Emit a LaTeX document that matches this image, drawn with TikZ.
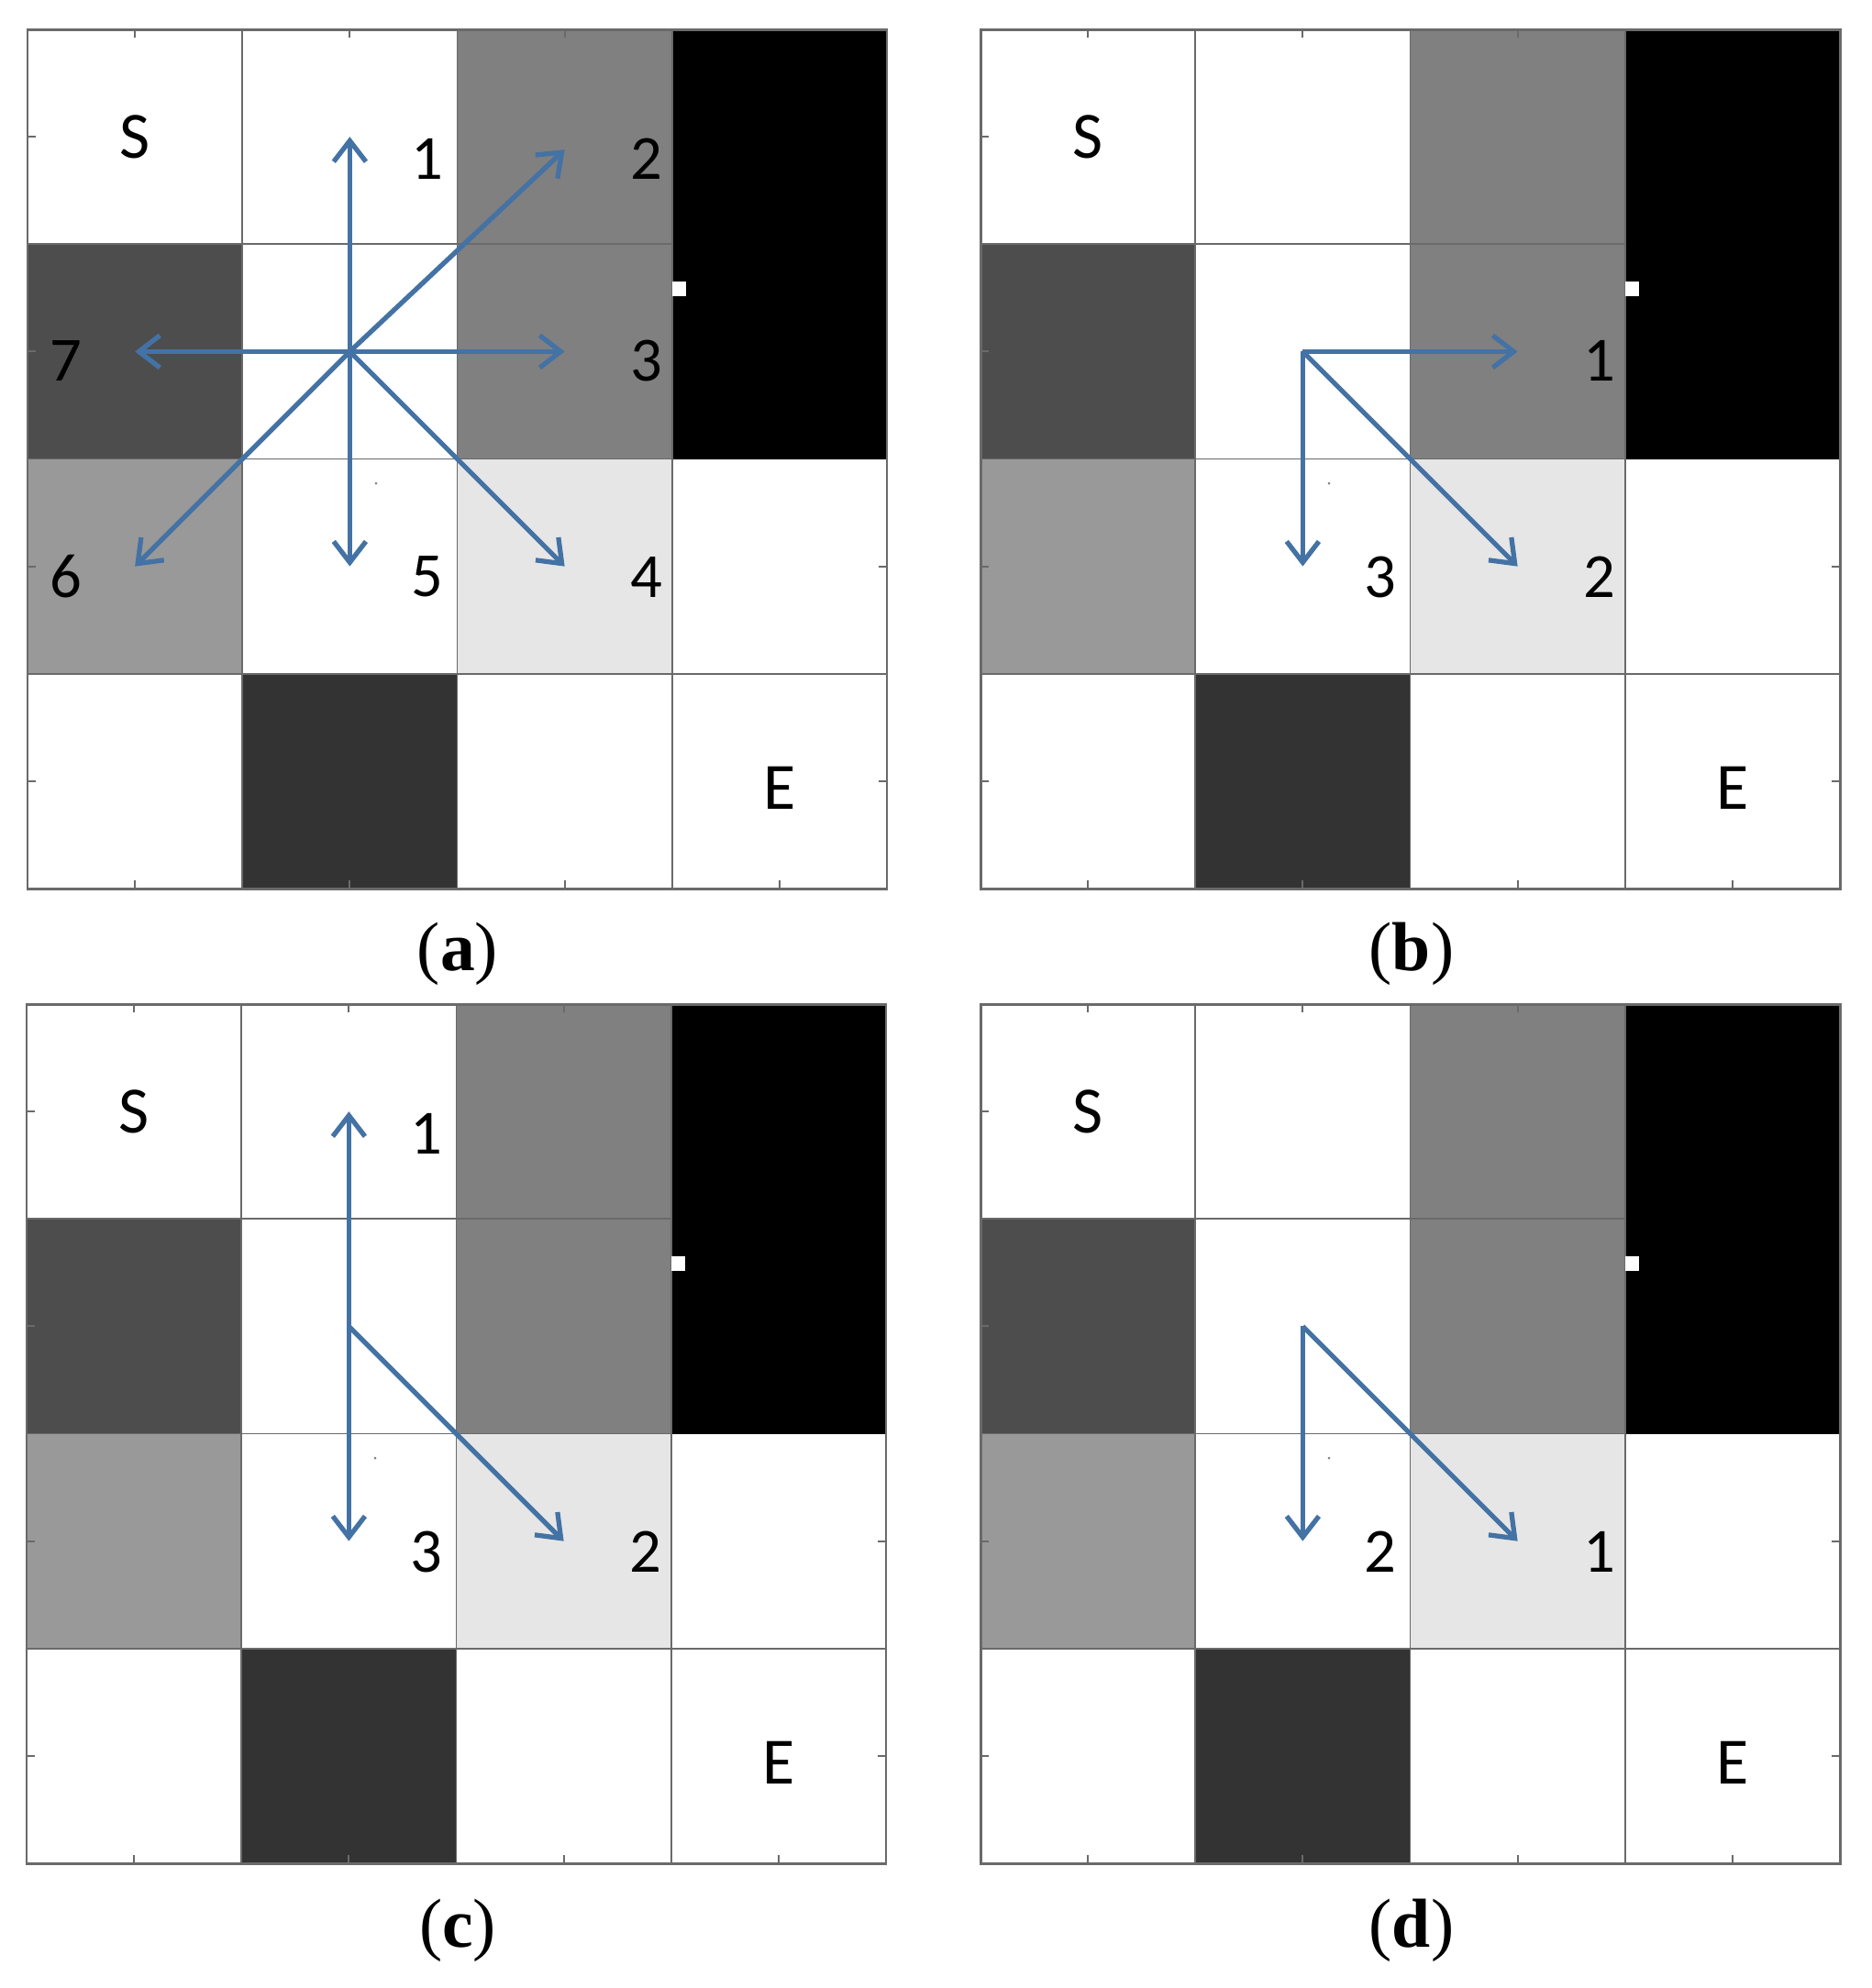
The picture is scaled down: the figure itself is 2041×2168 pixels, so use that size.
\documentclass[tikz,border=0pt]{standalone}
\usepackage{fontspec}
\setmainfont{Liberation Serif}
\newfontfamily\lblfont{Carlito}
\usetikzlibrary{arrows.meta}
\definecolor{arrowblue}{HTML}{4472A4}
\definecolor{gmid}{HTML}{808080}
\definecolor{gdark}{HTML}{4D4D4D}
\definecolor{gdarker}{HTML}{333333}
\definecolor{glight}{HTML}{999999}
\definecolor{gpale}{HTML}{E6E6E6}
\definecolor{gline}{HTML}{6A6A6A}
\tikzset{
  gridline/.style={draw=gline, line width=0.55pt},
  border/.style={draw=gline, line width=0.85pt},
  tickmark/.style={draw=gline, line width=0.6pt},
  arr/.style={draw=arrowblue, line width=1.5pt, -{Straight Barb[length=6.5pt,width=10pt]}},
  num/.style={font=\lblfont\fontsize{19.5}{22}\selectfont, inner sep=0pt},
  letter/.style={font=\lblfont\fontsize{20.5}{24}\selectfont, inner sep=0pt},
  captext/.style={font=\fontsize{21.5}{24}\selectfont, inner sep=0pt},
  panel/.pic={
    \def\c{234.25}
    \coordinate (-o) at (0,0);
    \foreach \col/\row/\shade in {3/1/gmid,1/2/gdark,3/2/gmid,1/3/glight,3/3/gpale,2/4/gdarker}
      \fill[\shade] ({(\col-1)*\c},{(\row-1)*\c}) rectangle ++(\c,\c);
    \foreach \i in {1,2,3} {
      \draw[gridline] ({\i*\c},0) -- ({\i*\c},937);
      \draw[gridline] (0,{\i*\c}) -- (937,{\i*\c});
    }
    \foreach \i in {0,1,2,3} {
      \draw[tickmark] ({(\i+0.5)*\c},0) -- ++(0,9);
      \draw[tickmark] ({(\i+0.5)*\c},937) -- ++(0,-9);
      \draw[tickmark] (0,{(\i+0.5)*\c}) -- ++(9,0);
      \draw[tickmark] (937,{(\i+0.5)*\c}) -- ++(-9,0);
    }
    \fill[black] ({3*\c+1},0) rectangle (937,{2*\c});
    \draw[border] (0,0) rectangle (937,937);
    \fill[white] (703,275) rectangle (718,291);
    \fill[gray] (380,495) circle (1.5);
    \node[letter] (-S) at ({0.5*\c},{0.5*\c}) {S};
    \node[letter] (-E) at ({3.5*\c},{3.53*\c}) {E};
    \foreach \col in {1,2,3} \foreach \row in {1,2,3}
      \coordinate (-c\col\row) at ({(\col-0.5)*\c},{(\row-0.5)*\c});
    \coordinate (-ur) at ({2.5*\c},{0.56*\c});
  }
}
\begin{document}
\begin{tikzpicture}[x=0.01cm,y=-0.01cm]
\useasboundingbox (0,0) rectangle (2041,2168);
\fill[white] (0,0) rectangle (2041,2168);

\pic (a) at (30,32) {panel};
\pic (b) at (1069,32) {panel};
\pic (c) at (29,1095) {panel};
\pic (d) at (1069,1095) {panel};

% (a) all seven directions
\draw[arr] (a-c22) -- (a-c21);
\draw[arr] (a-c22) -- (a-ur);
\draw[arr] (a-c22) -- (a-c32);
\draw[arr] (a-c22) -- (a-c33);
\draw[arr] (a-c22) -- (a-c23);
\draw[arr] (a-c22) -- (a-c13);
\draw[arr] (a-c22) -- (a-c12);
\node[num] (a-n1) at ([shift={(436,141)}]a-o) {1};
\node[num] (a-n2) at ([shift={(675,141)}]a-o) {2};
\node[num] (a-n3) at ([shift={(675,361)}]a-o) {3};
\node[num] (a-n4) at ([shift={(675,597)}]a-o) {4};
\node[num] (a-n5) at ([shift={(436,597)}]a-o) {5};
\node[num] (a-n6) at ([shift={(42,597)}]a-o) {6};
\node[num] (a-n7) at ([shift={(42,361)}]a-o) {7};

% (b)
\draw[arr] (b-c22) -- (b-c32);
\draw[arr] (b-c22) -- (b-c33);
\draw[arr] (b-c22) -- (b-c23);
\node[num] (b-n1) at ([shift={(675,361)}]b-o) {1};
\node[num] (b-n2) at ([shift={(675,597)}]b-o) {2};
\node[num] (b-n3) at ([shift={(436,597)}]b-o) {3};

% (c)
\draw[arr] (c-c22) -- (c-c21);
\draw[arr] (c-c22) -- (c-c33);
\draw[arr] (c-c22) -- (c-c23);
\node[num] (c-n1) at ([shift={(436,141)}]c-o) {1};
\node[num] (c-n2) at ([shift={(675,597)}]c-o) {2};
\node[num] (c-n3) at ([shift={(436,597)}]c-o) {3};

% (d)
\draw[arr] (d-c22) -- (d-c33);
\draw[arr] (d-c22) -- (d-c23);
\node[num] (d-n1) at ([shift={(675,597)}]d-o) {1};
\node[num] (d-n2) at ([shift={(436,597)}]d-o) {2};

% captions
\node[captext] (capa) at (499,1040) {(\textbf{a})};
\node[captext] (capb) at (1539,1040) {(\textbf{b})};
\node[captext] (capc) at (499,2105) {(\textbf{c})};
\node[captext] (capd) at (1539,2105) {(\textbf{d})};
\end{tikzpicture}
\end{document}
